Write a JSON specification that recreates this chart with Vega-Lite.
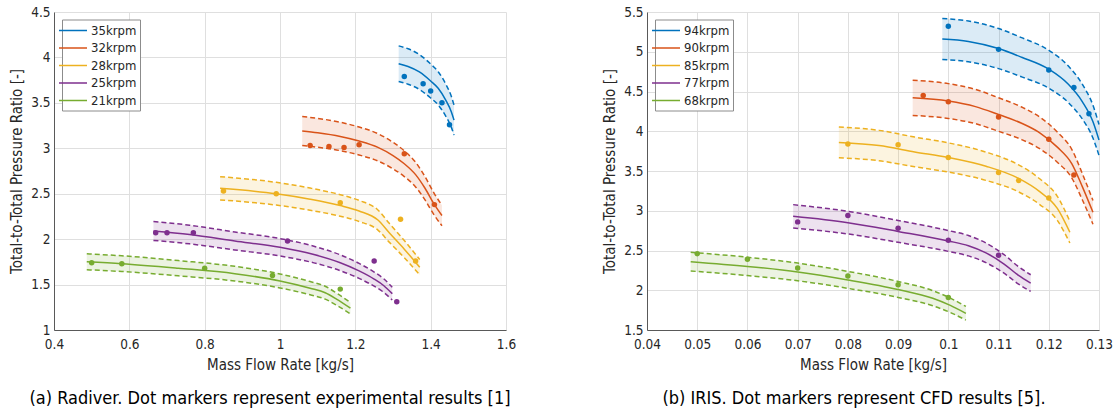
{
  "$schema": "https://vega.github.io/schema/vega-lite/v6.json",
  "background": "white",
  "padding": {"left": 9, "top": 5, "right": 5, "bottom": 5},
  "spacing": 86,
  "resolve": {"scale": {"color": "independent"}},
  "config": {
    "view": {"stroke": null},
    "font": "DejaVu Sans Condensed",
    "axis": {
      "labelFont": "DejaVu Sans Condensed",
      "titleFont": "DejaVu Sans Condensed",
      "labelFontSize": 13.5,
      "labelColor": "#262626",
      "titleFontSize": 15,
      "titleFontWeight": "normal",
      "titleColor": "#262626",
      "grid": true,
      "gridColor": "#dfdfdf",
      "gridWidth": 1,
      "domainColor": "#595959",
      "domainWidth": 1,
      "ticks": false,
      "labelFlush": false,
      "labelOverlap": false
    },
    "axisX": {"labelPadding": 7, "titlePadding": 7},
    "axisY": {"labelPadding": 4, "titlePadding": 6},
    "line": {"interpolate": "monotone", "strokeWidth": 1.5},
    "area": {"interpolate": "monotone"},
    "legend": {
      "orient": "none",
      "title": null,
      "labelFont": "DejaVu Sans Condensed",
      "labelFontSize": 13,
      "labelColor": "#262626",
      "fillColor": "white",
      "strokeColor": "#8c8c8c",
      "padding": 3,
      "rowPadding": 2.5,
      "symbolType": "M-2,0H2",
      "symbolSize": 196,
      "symbolStrokeWidth": 1.6,
      "symbolOpacity": 1,
      "labelOffset": 10,
      "legendY": 7.5
    },
    "title": {"font": "DejaVu Sans Condensed", "fontSize": 18, "fontWeight": "normal", "color": "#000000"}
  },
  "datasets": {
    "a_curves": [
      {"speed": "35krpm", "x": 1.315, "mid": 3.93, "lo": 3.734, "hi": 4.127},
      {"speed": "35krpm", "x": 1.34, "mid": 3.90, "lo": 3.705, "hi": 4.095},
      {"speed": "35krpm", "x": 1.37, "mid": 3.84, "lo": 3.648, "hi": 4.032},
      {"speed": "35krpm", "x": 1.40, "mid": 3.74, "lo": 3.553, "hi": 3.927},
      {"speed": "35krpm", "x": 1.42, "mid": 3.66, "lo": 3.477, "hi": 3.843},
      {"speed": "35krpm", "x": 1.44, "mid": 3.53, "lo": 3.354, "hi": 3.707},
      {"speed": "35krpm", "x": 1.455, "mid": 3.40, "lo": 3.230, "hi": 3.570},
      {"speed": "35krpm", "x": 1.462, "mid": 3.31, "lo": 3.145, "hi": 3.476},
      {"speed": "32krpm", "x": 1.059, "mid": 3.19, "lo": 3.031, "hi": 3.350},
      {"speed": "32krpm", "x": 1.10, "mid": 3.17, "lo": 3.012, "hi": 3.329},
      {"speed": "32krpm", "x": 1.16, "mid": 3.13, "lo": 2.974, "hi": 3.287},
      {"speed": "32krpm", "x": 1.21, "mid": 3.08, "lo": 2.926, "hi": 3.234},
      {"speed": "32krpm", "x": 1.26, "mid": 3.01, "lo": 2.860, "hi": 3.161},
      {"speed": "32krpm", "x": 1.30, "mid": 2.92, "lo": 2.774, "hi": 3.066},
      {"speed": "32krpm", "x": 1.33, "mid": 2.83, "lo": 2.689, "hi": 2.972},
      {"speed": "32krpm", "x": 1.36, "mid": 2.71, "lo": 2.575, "hi": 2.846},
      {"speed": "32krpm", "x": 1.385, "mid": 2.56, "lo": 2.432, "hi": 2.688},
      {"speed": "32krpm", "x": 1.41, "mid": 2.38, "lo": 2.261, "hi": 2.499},
      {"speed": "32krpm", "x": 1.43, "mid": 2.26, "lo": 2.147, "hi": 2.373},
      {"speed": "28krpm", "x": 0.841, "mid": 2.56, "lo": 2.432, "hi": 2.688},
      {"speed": "28krpm", "x": 0.99, "mid": 2.50, "lo": 2.375, "hi": 2.625},
      {"speed": "28krpm", "x": 1.08, "mid": 2.44, "lo": 2.318, "hi": 2.562},
      {"speed": "28krpm", "x": 1.16, "mid": 2.37, "lo": 2.252, "hi": 2.489},
      {"speed": "28krpm", "x": 1.21, "mid": 2.31, "lo": 2.195, "hi": 2.426},
      {"speed": "28krpm", "x": 1.26, "mid": 2.21, "lo": 2.100, "hi": 2.321},
      {"speed": "28krpm", "x": 1.29, "mid": 2.07, "lo": 1.967, "hi": 2.174},
      {"speed": "28krpm", "x": 1.33, "mid": 1.89, "lo": 1.796, "hi": 1.985},
      {"speed": "28krpm", "x": 1.371, "mid": 1.69, "lo": 1.606, "hi": 1.775},
      {"speed": "25krpm", "x": 0.664, "mid": 2.09, "lo": 1.986, "hi": 2.195},
      {"speed": "25krpm", "x": 0.76, "mid": 2.05, "lo": 1.948, "hi": 2.153},
      {"speed": "25krpm", "x": 0.88, "mid": 1.98, "lo": 1.881, "hi": 2.079},
      {"speed": "25krpm", "x": 1.00, "mid": 1.91, "lo": 1.815, "hi": 2.006},
      {"speed": "25krpm", "x": 1.09, "mid": 1.83, "lo": 1.739, "hi": 1.922},
      {"speed": "25krpm", "x": 1.16, "mid": 1.74, "lo": 1.653, "hi": 1.827},
      {"speed": "25krpm", "x": 1.21, "mid": 1.65, "lo": 1.568, "hi": 1.733},
      {"speed": "25krpm", "x": 1.25, "mid": 1.56, "lo": 1.482, "hi": 1.638},
      {"speed": "25krpm", "x": 1.275, "mid": 1.49, "lo": 1.416, "hi": 1.565},
      {"speed": "25krpm", "x": 1.298, "mid": 1.40, "lo": 1.330, "hi": 1.470},
      {"speed": "21krpm", "x": 0.487, "mid": 1.75, "lo": 1.663, "hi": 1.838},
      {"speed": "21krpm", "x": 0.58, "mid": 1.73, "lo": 1.644, "hi": 1.817},
      {"speed": "21krpm", "x": 0.73, "mid": 1.68, "lo": 1.596, "hi": 1.764},
      {"speed": "21krpm", "x": 0.88, "mid": 1.62, "lo": 1.539, "hi": 1.701},
      {"speed": "21krpm", "x": 1.00, "mid": 1.54, "lo": 1.463, "hi": 1.617},
      {"speed": "21krpm", "x": 1.08, "mid": 1.46, "lo": 1.387, "hi": 1.533},
      {"speed": "21krpm", "x": 1.12, "mid": 1.41, "lo": 1.340, "hi": 1.481},
      {"speed": "21krpm", "x": 1.15, "mid": 1.34, "lo": 1.273, "hi": 1.407},
      {"speed": "21krpm", "x": 1.187, "mid": 1.24, "lo": 1.178, "hi": 1.302}
    ],
    "a_dots": [
      {"speed": "35krpm", "x": 1.33, "y": 3.79},
      {"speed": "35krpm", "x": 1.38, "y": 3.71},
      {"speed": "35krpm", "x": 1.40, "y": 3.63},
      {"speed": "35krpm", "x": 1.43, "y": 3.50},
      {"speed": "35krpm", "x": 1.45, "y": 3.26},
      {"speed": "32krpm", "x": 1.08, "y": 3.03},
      {"speed": "32krpm", "x": 1.13, "y": 3.02},
      {"speed": "32krpm", "x": 1.17, "y": 3.01},
      {"speed": "32krpm", "x": 1.21, "y": 3.04},
      {"speed": "32krpm", "x": 1.33, "y": 2.94},
      {"speed": "32krpm", "x": 1.41, "y": 2.38},
      {"speed": "28krpm", "x": 0.85, "y": 2.53},
      {"speed": "28krpm", "x": 0.99, "y": 2.50},
      {"speed": "28krpm", "x": 1.16, "y": 2.40},
      {"speed": "28krpm", "x": 1.32, "y": 2.22},
      {"speed": "28krpm", "x": 1.36, "y": 1.76},
      {"speed": "25krpm", "x": 0.67, "y": 2.07},
      {"speed": "25krpm", "x": 0.70, "y": 2.07},
      {"speed": "25krpm", "x": 0.77, "y": 2.07},
      {"speed": "25krpm", "x": 1.02, "y": 1.98},
      {"speed": "25krpm", "x": 1.25, "y": 1.76},
      {"speed": "25krpm", "x": 1.31, "y": 1.31},
      {"speed": "21krpm", "x": 0.50, "y": 1.74},
      {"speed": "21krpm", "x": 0.58, "y": 1.73},
      {"speed": "21krpm", "x": 0.80, "y": 1.68},
      {"speed": "21krpm", "x": 0.98, "y": 1.60},
      {"speed": "21krpm", "x": 1.16, "y": 1.45}
    ],
    "b_curves": [
      {"speed": "94krpm", "x": 0.0988, "mid": 5.16, "lo": 4.902, "hi": 5.418},
      {"speed": "94krpm", "x": 0.104, "mid": 5.13, "lo": 4.874, "hi": 5.387},
      {"speed": "94krpm", "x": 0.110, "mid": 5.04, "lo": 4.788, "hi": 5.292},
      {"speed": "94krpm", "x": 0.1146, "mid": 4.93, "lo": 4.684, "hi": 5.177},
      {"speed": "94krpm", "x": 0.120, "mid": 4.78, "lo": 4.541, "hi": 5.019},
      {"speed": "94krpm", "x": 0.1239, "mid": 4.59, "lo": 4.361, "hi": 4.820},
      {"speed": "94krpm", "x": 0.1267, "mid": 4.37, "lo": 4.152, "hi": 4.589},
      {"speed": "94krpm", "x": 0.1288, "mid": 4.12, "lo": 3.914, "hi": 4.326},
      {"speed": "94krpm", "x": 0.130, "mid": 3.89, "lo": 3.696, "hi": 4.085},
      {"speed": "90krpm", "x": 0.0929, "mid": 4.42, "lo": 4.199, "hi": 4.641},
      {"speed": "90krpm", "x": 0.100, "mid": 4.38, "lo": 4.161, "hi": 4.599},
      {"speed": "90krpm", "x": 0.1054, "mid": 4.31, "lo": 4.095, "hi": 4.526},
      {"speed": "90krpm", "x": 0.110, "mid": 4.21, "lo": 4.000, "hi": 4.421},
      {"speed": "90krpm", "x": 0.1146, "mid": 4.10, "lo": 3.895, "hi": 4.305},
      {"speed": "90krpm", "x": 0.1182, "mid": 3.98, "lo": 3.781, "hi": 4.179},
      {"speed": "90krpm", "x": 0.1217, "mid": 3.80, "lo": 3.610, "hi": 3.990},
      {"speed": "90krpm", "x": 0.1246, "mid": 3.59, "lo": 3.411, "hi": 3.770},
      {"speed": "90krpm", "x": 0.1267, "mid": 3.30, "lo": 3.135, "hi": 3.465},
      {"speed": "90krpm", "x": 0.1288, "mid": 2.98, "lo": 2.831, "hi": 3.129},
      {"speed": "85krpm", "x": 0.0782, "mid": 3.86, "lo": 3.667, "hi": 4.053},
      {"speed": "85krpm", "x": 0.0862, "mid": 3.82, "lo": 3.629, "hi": 4.011},
      {"speed": "85krpm", "x": 0.0933, "mid": 3.74, "lo": 3.553, "hi": 3.927},
      {"speed": "85krpm", "x": 0.100, "mid": 3.67, "lo": 3.487, "hi": 3.854},
      {"speed": "85krpm", "x": 0.1075, "mid": 3.56, "lo": 3.382, "hi": 3.738},
      {"speed": "85krpm", "x": 0.1139, "mid": 3.41, "lo": 3.240, "hi": 3.581},
      {"speed": "85krpm", "x": 0.1182, "mid": 3.24, "lo": 3.078, "hi": 3.402},
      {"speed": "85krpm", "x": 0.1217, "mid": 3.03, "lo": 2.879, "hi": 3.182},
      {"speed": "85krpm", "x": 0.1242, "mid": 2.73, "lo": 2.594, "hi": 2.867},
      {"speed": "77krpm", "x": 0.0691, "mid": 2.93, "lo": 2.784, "hi": 3.077},
      {"speed": "77krpm", "x": 0.080, "mid": 2.85, "lo": 2.708, "hi": 2.993},
      {"speed": "77krpm", "x": 0.090, "mid": 2.74, "lo": 2.603, "hi": 2.877},
      {"speed": "77krpm", "x": 0.100, "mid": 2.62, "lo": 2.489, "hi": 2.751},
      {"speed": "77krpm", "x": 0.104, "mid": 2.56, "lo": 2.432, "hi": 2.688},
      {"speed": "77krpm", "x": 0.1075, "mid": 2.47, "lo": 2.347, "hi": 2.594},
      {"speed": "77krpm", "x": 0.1111, "mid": 2.33, "lo": 2.214, "hi": 2.447},
      {"speed": "77krpm", "x": 0.1139, "mid": 2.19, "lo": 2.081, "hi": 2.300},
      {"speed": "77krpm", "x": 0.1164, "mid": 2.09, "lo": 1.986, "hi": 2.195},
      {"speed": "68krpm", "x": 0.0487, "mid": 2.36, "lo": 2.242, "hi": 2.478},
      {"speed": "68krpm", "x": 0.060, "mid": 2.30, "lo": 2.185, "hi": 2.415},
      {"speed": "68krpm", "x": 0.070, "mid": 2.23, "lo": 2.119, "hi": 2.342},
      {"speed": "68krpm", "x": 0.080, "mid": 2.13, "lo": 2.024, "hi": 2.237},
      {"speed": "68krpm", "x": 0.090, "mid": 2.01, "lo": 1.910, "hi": 2.111},
      {"speed": "68krpm", "x": 0.0969, "mid": 1.90, "lo": 1.805, "hi": 1.995},
      {"speed": "68krpm", "x": 0.1004, "mid": 1.81, "lo": 1.720, "hi": 1.901},
      {"speed": "68krpm", "x": 0.1035, "mid": 1.71, "lo": 1.625, "hi": 1.796}
    ],
    "b_dots": [
      {"speed": "94krpm", "x": 0.100, "y": 5.32},
      {"speed": "94krpm", "x": 0.110, "y": 5.03},
      {"speed": "94krpm", "x": 0.120, "y": 4.77},
      {"speed": "94krpm", "x": 0.125, "y": 4.55},
      {"speed": "94krpm", "x": 0.128, "y": 4.22},
      {"speed": "90krpm", "x": 0.095, "y": 4.45},
      {"speed": "90krpm", "x": 0.100, "y": 4.37},
      {"speed": "90krpm", "x": 0.110, "y": 4.18},
      {"speed": "90krpm", "x": 0.120, "y": 3.90},
      {"speed": "90krpm", "x": 0.125, "y": 3.45},
      {"speed": "85krpm", "x": 0.080, "y": 3.84},
      {"speed": "85krpm", "x": 0.090, "y": 3.83},
      {"speed": "85krpm", "x": 0.100, "y": 3.67},
      {"speed": "85krpm", "x": 0.110, "y": 3.48},
      {"speed": "85krpm", "x": 0.114, "y": 3.38},
      {"speed": "85krpm", "x": 0.120, "y": 3.16},
      {"speed": "77krpm", "x": 0.070, "y": 2.86},
      {"speed": "77krpm", "x": 0.080, "y": 2.94},
      {"speed": "77krpm", "x": 0.090, "y": 2.78},
      {"speed": "77krpm", "x": 0.100, "y": 2.63},
      {"speed": "77krpm", "x": 0.110, "y": 2.44},
      {"speed": "68krpm", "x": 0.050, "y": 2.46},
      {"speed": "68krpm", "x": 0.060, "y": 2.39},
      {"speed": "68krpm", "x": 0.070, "y": 2.28},
      {"speed": "68krpm", "x": 0.080, "y": 2.18},
      {"speed": "68krpm", "x": 0.090, "y": 2.07},
      {"speed": "68krpm", "x": 0.100, "y": 1.91}
    ]
  },
  "hconcat": [
    {
      "width": 452,
      "height": 318,
      "title": {"text": "(a) Radiver. Dot markers represent experimental results [1]", "orient": "bottom", "anchor": "middle", "frame": "group", "dx": -10, "offset": 17},
      "encoding": {
        "x": {"field": "x", "type": "quantitative", "scale": {"domain": [0.4, 1.6], "nice": false, "zero": false}, "axis": {"values": [0.4, 0.6, 0.8, 1.0, 1.2, 1.4, 1.6], "format": "~g", "title": "Mass Flow Rate [kg/s]", "labelOverlap": false}},
        "color": {"field": "speed", "type": "nominal", "scale": {"domain": ["35krpm", "32krpm", "28krpm", "25krpm", "21krpm"], "range": ["#0072BD", "#D95319", "#EDB120", "#7E2F8E", "#77AC30"]}, "legend": {"legendX": 8, "symbolOpacity": 1}}
      },
      "layer": [
        {"data": {"name": "a_curves"}, "mark": {"type": "area", "opacity": 0.14}, "encoding": {"y": {"field": "lo", "type": "quantitative", "scale": {"domain": [1, 4.5], "nice": false, "zero": false}, "axis": {"values": [1, 1.5, 2, 2.5, 3, 3.5, 4, 4.5], "format": "~g", "title": "Total-to-Total Pressure Ratio [-]", "labelOverlap": false}}, "y2": {"field": "hi"}}},
        {"data": {"name": "a_curves"}, "mark": {"type": "line"}, "encoding": {"y": {"field": "mid", "type": "quantitative", "axis": {"values": [1, 1.5, 2, 2.5, 3, 3.5, 4, 4.5], "format": "~g", "title": "Total-to-Total Pressure Ratio [-]", "labelOverlap": false}}}},
        {"data": {"name": "a_curves"}, "mark": {"type": "line", "strokeDash": [5, 3]}, "encoding": {"y": {"field": "hi", "type": "quantitative", "axis": {"values": [1, 1.5, 2, 2.5, 3, 3.5, 4, 4.5], "format": "~g", "title": "Total-to-Total Pressure Ratio [-]", "labelOverlap": false}}}},
        {"data": {"name": "a_curves"}, "mark": {"type": "line", "strokeDash": [5, 3]}, "encoding": {"y": {"field": "lo", "type": "quantitative", "axis": {"values": [1, 1.5, 2, 2.5, 3, 3.5, 4, 4.5], "format": "~g", "title": "Total-to-Total Pressure Ratio [-]", "labelOverlap": false}}}},
        {"data": {"name": "a_dots"}, "mark": {"type": "point", "filled": true, "size": 30, "opacity": 1}, "encoding": {"y": {"field": "y", "type": "quantitative", "axis": {"values": [1, 1.5, 2, 2.5, 3, 3.5, 4, 4.5], "format": "~g", "title": "Total-to-Total Pressure Ratio [-]", "labelOverlap": false}}}}
      ]
    },
    {
      "width": 452,
      "height": 318,
      "title": {"text": "(b) IRIS. Dot markers represent CFD results [5].", "orient": "bottom", "anchor": "middle", "frame": "group", "dx": -19, "offset": 17},
      "encoding": {
        "x": {"field": "x", "type": "quantitative", "scale": {"domain": [0.04, 0.13], "nice": false, "zero": false}, "axis": {"values": [0.04, 0.05, 0.06, 0.07, 0.08, 0.09, 0.1, 0.11, 0.12, 0.13], "format": "~g", "title": "Mass Flow Rate [kg/s]", "labelOverlap": false}},
        "color": {"field": "speed", "type": "nominal", "scale": {"domain": ["94krpm", "90krpm", "85krpm", "77krpm", "68krpm"], "range": ["#0072BD", "#D95319", "#EDB120", "#7E2F8E", "#77AC30"]}, "legend": {"legendX": 8, "symbolOpacity": 1}}
      },
      "layer": [
        {"data": {"name": "b_curves"}, "mark": {"type": "area", "opacity": 0.14}, "encoding": {"y": {"field": "lo", "type": "quantitative", "scale": {"domain": [1.5, 5.5], "nice": false, "zero": false}, "axis": {"values": [1.5, 2, 2.5, 3, 3.5, 4, 4.5, 5, 5.5], "format": "~g", "title": "Total-to-Total Pressure Ratio [-]", "labelOverlap": false}}, "y2": {"field": "hi"}}},
        {"data": {"name": "b_curves"}, "mark": {"type": "line"}, "encoding": {"y": {"field": "mid", "type": "quantitative", "axis": {"values": [1.5, 2, 2.5, 3, 3.5, 4, 4.5, 5, 5.5], "format": "~g", "title": "Total-to-Total Pressure Ratio [-]", "labelOverlap": false}}}},
        {"data": {"name": "b_curves"}, "mark": {"type": "line", "strokeDash": [5, 3]}, "encoding": {"y": {"field": "hi", "type": "quantitative", "axis": {"values": [1.5, 2, 2.5, 3, 3.5, 4, 4.5, 5, 5.5], "format": "~g", "title": "Total-to-Total Pressure Ratio [-]", "labelOverlap": false}}}},
        {"data": {"name": "b_curves"}, "mark": {"type": "line", "strokeDash": [5, 3]}, "encoding": {"y": {"field": "lo", "type": "quantitative", "axis": {"values": [1.5, 2, 2.5, 3, 3.5, 4, 4.5, 5, 5.5], "format": "~g", "title": "Total-to-Total Pressure Ratio [-]", "labelOverlap": false}}}},
        {"data": {"name": "b_dots"}, "mark": {"type": "point", "filled": true, "size": 30, "opacity": 1}, "encoding": {"y": {"field": "y", "type": "quantitative", "axis": {"values": [1.5, 2, 2.5, 3, 3.5, 4, 4.5, 5, 5.5], "format": "~g", "title": "Total-to-Total Pressure Ratio [-]", "labelOverlap": false}}}}
      ]
    }
  ]
}
